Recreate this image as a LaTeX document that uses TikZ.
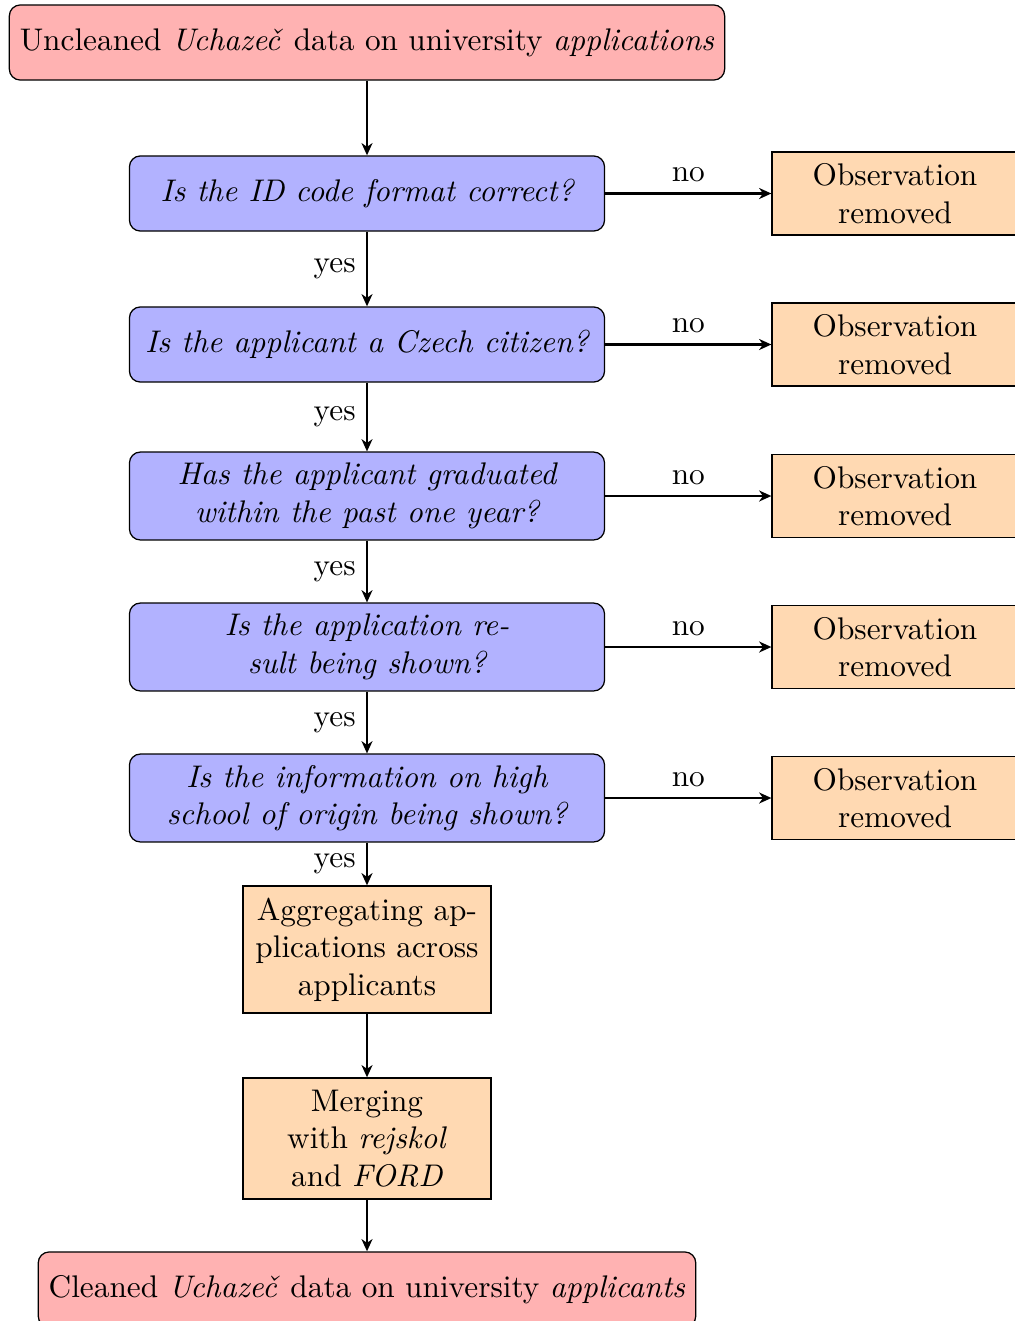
\documentclass[tikz,border=0pt]{standalone}
\usepackage{fontspec}
\usetikzlibrary{arrows.meta}
\begin{document}
\begin{tikzpicture}[x=0.3195pt,y=-0.3195pt,
  startstop/.style={rectangle, rounded corners=3.5pt, draw=black, fill=red!30, minimum height=24pt, inner sep=3.33pt},
  decision/.style={rectangle, rounded corners=3.5pt, draw=black, fill=blue!30, minimum width=151.8pt, align=center, font=\itshape, inner sep=3.33pt},
  process/.style={rectangle, draw=black, fill=orange!30, align=center, inner sep=3.33pt},
  obsbox/.style={process, minimum width=78.6pt, minimum height=26.5pt},
  conn/.style={line width=0.65pt, -{Stealth[length=3.9pt,width=3.5pt,inset=1.2pt]}},
  lbl/.style={font=\normalsize}]
\useasboundingbox (0,0) rectangle (1014,1321);
\node[startstop, minimum width=228.4pt] (start) at (367,42.5) {Uncleaned \textit{Uchazeč} data on university \textit{applications}};
\node[decision, minimum height=24pt] (d1) at (367,193.5) {Is the ID code format correct?};
\node[decision, minimum height=24pt] (d2) at (367,344.5) {Is the applicant a Czech citizen?};
\node[decision, minimum height=28.1pt] (d3) at (367,496) {Has the applicant graduated\\within the past one year?};
\node[decision, minimum height=28.1pt] (d4) at (367,647) {Is the application re-\\sult being shown?};
\node[decision, minimum height=28.1pt] (d5) at (367,798) {Is the information on high\\school of origin being shown?};
\node[obsbox] (o1) at (895,193.5) {Observation\\removed};
\node[obsbox] (o2) at (895,344.5) {Observation\\removed};
\node[obsbox] (o3) at (895,496) {Observation\\removed};
\node[obsbox] (o4) at (895,647) {Observation\\removed};
\node[obsbox] (o5) at (895,798) {Observation\\removed};
\node[process, minimum width=79.2pt, minimum height=40.6pt] (agg) at (367,949.5) {Aggregating ap-\\plications across\\applicants};
\node[process, minimum width=79.2pt, minimum height=38.7pt] (merge) at (367,1138.5) {Merging\\with \textit{rejskol}\\and \textit{FORD}};
\node[startstop, minimum width=209.9pt] (stop) at (367,1289.5) {Cleaned \textit{Uchazeč} data on university \textit{applicants}};
\draw[conn] (start) -- (d1);
\draw[conn] (d1) -- node[left, lbl] {yes} (d2);
\draw[conn] (d2) -- node[left, lbl] {yes} (d3);
\draw[conn] (d3) -- node[left, lbl] {yes} (d4);
\draw[conn] (d4) -- node[left, lbl] {yes} (d5);
\draw[conn] (d5) -- node[left, lbl] {yes} (agg);
\draw[conn] (d1) -- node[above, lbl] {no} (o1);
\draw[conn] (d2) -- node[above, lbl] {no} (o2);
\draw[conn] (d3) -- node[above, lbl] {no} (o3);
\draw[conn] (d4) -- node[above, lbl] {no} (o4);
\draw[conn] (d5) -- node[above, lbl] {no} (o5);
\draw[conn] (agg) -- (merge);
\draw[conn] (merge) -- (stop);
\end{tikzpicture}
\end{document}
